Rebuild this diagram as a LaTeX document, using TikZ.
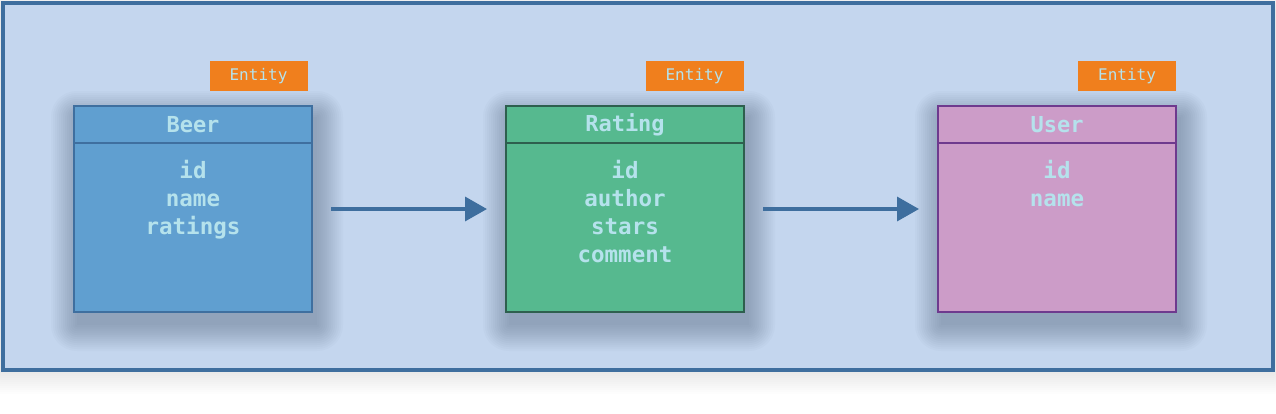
\documentclass[tikz,border=0pt]{standalone}
\usepackage{fontspec}
\setmonofont{DejaVu Sans Mono}
\usetikzlibrary{arrows.meta,backgrounds}
\definecolor{bgblue}{HTML}{C4D6EE}
\definecolor{frameblue}{HTML}{3E6E9E}
\definecolor{beerfill}{HTML}{609FD0}
\definecolor{beerline}{HTML}{3F6F9F}
\definecolor{ratingfill}{HTML}{56B98F}
\definecolor{ratingline}{HTML}{2E5F4E}
\definecolor{userfill}{HTML}{CC9CC8}
\definecolor{userline}{HTML}{6E3A8E}
\definecolor{tagorange}{HTML}{F07F1D}
\definecolor{labcyan}{HTML}{B5E2EC}
\definecolor{shade}{HTML}{33455E}

\begin{document}
\begin{tikzpicture}
[x=1pt,y=-1pt
,frame/.style={draw=frameblue,line width=4pt,fill=bgblue}
,ent/.style={draw,line width=2pt,minimum width=238pt,minimum height=206pt,inner sep=0pt}
,ttl/.style={font=\ttfamily\bfseries\fontsize{22}{24}\selectfont,text=labcyan,inner sep=0pt}
,flds/.style={font=\ttfamily\bfseries\fontsize{22.5}{28}\selectfont,text=labcyan,align=center,anchor=north,inner sep=0pt}
,tag/.style={fill=tagorange,minimum width=98pt,minimum height=30pt,inner sep=0pt,font=\ttfamily\fontsize{16}{18}\selectfont,text=labcyan}
,rel/.style={draw=frameblue,line width=3.5pt,shorten <=18pt,shorten >=18pt,arrows={-Triangle[length=22pt,width=24pt]}}
,haze/.style={fill=shade,opacity=0.028}
]
\useasboundingbox (0,0) rectangle (1276,413);

% entities
\node[ent,fill=beerfill,draw=beerline] (beer) at (193,209) {};
\node[ent,fill=ratingfill,draw=ratingline] (rating) at (625,209) {};
\node[ent,fill=userfill,draw=userline] (user) at (1057,209) {};

\begin{pgfonlayer}{background}
\foreach \r in {0,2,...,24}
  \fill[black,opacity=0.008,rounded corners=\r pt] (3-\r,10-\r) rectangle (1272+\r,370+\r);
\node[frame,minimum width=1270pt,minimum height=367pt,inner sep=0pt] (bg) at (637.5,186.5) {};
\foreach \n in {beer,rating,user}
  \foreach \r in {0,2,...,26}
    \fill[haze,rounded corners=\r pt] ([shift={(4-\r,12-\r)}]\n.north west) rectangle ([shift={(4+\r,12+\r)}]\n.south east);
\end{pgfonlayer}

\draw[beerline,line width=2pt] ([yshift=-38pt]beer.north west) -- ([yshift=-38pt]beer.north east);
\draw[ratingline,line width=2pt] ([yshift=-38pt]rating.north west) -- ([yshift=-38pt]rating.north east);
\draw[userline,line width=2pt] ([yshift=-38pt]user.north west) -- ([yshift=-38pt]user.north east);

\node[ttl] (beert) at (193,125) {Beer};
\node[ttl] (ratingt) at (625,125) {Rating};
\node[ttl] (usert) at (1057,125) {User};

\node[flds] (beerf) at (193,160) {id\\name\\ratings};
\node[flds] (ratingf) at (625,160) {id\\author\\stars\\comment};
\node[flds] (userf) at (1057,160) {id\\name};

\node[tag] (beertag) at (258.5,76) {Entity};
\node[tag] (ratingtag) at (694.5,76) {Entity};
\node[tag] (usertag) at (1127,76) {Entity};

\draw[rel] (beer) -- (rating);
\draw[rel] (rating) -- (user);
\end{tikzpicture}
\end{document}
